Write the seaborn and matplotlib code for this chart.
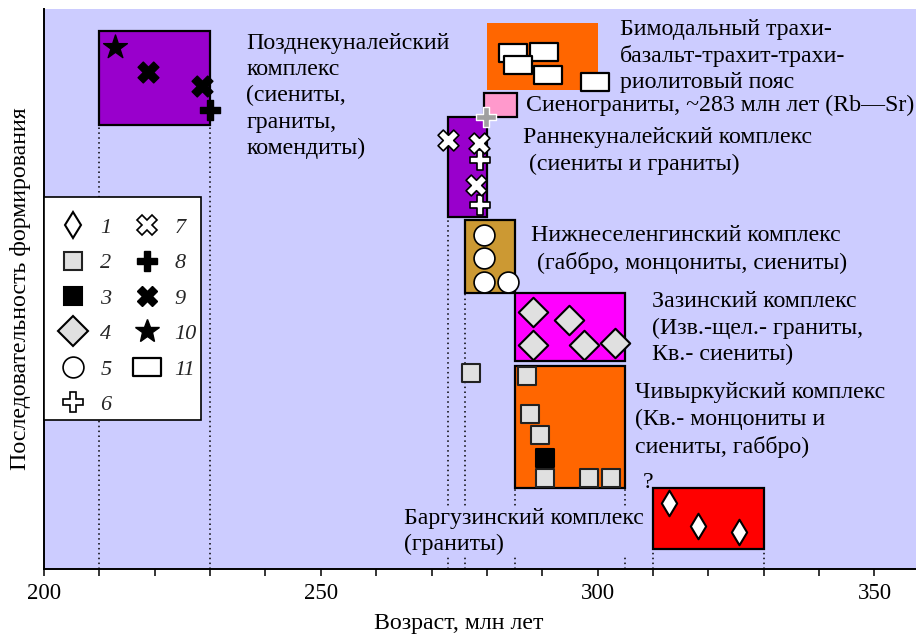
import matplotlib
matplotlib.use("Agg")
import matplotlib.pyplot as plt
import seaborn as sns
import numpy as np
from matplotlib.path import Path
from matplotlib.lines import Line2D

# ---------------- data ----------------
# complexes: age interval (Ma) and position in formation sequence (arbitrary units)
box_names = ["Позднекуналейский", "Бимодальный пояс", "Сиенограниты", "Раннекуналейский",
             "Нижнеселенгинский", "Зазинский", "Чивыркуйский", "Баргузинский"]
box_age_min = [210, 280, 279.4, 273, 276, 285, 285, 310]
box_age_max = [230, 300, 285.4, 280, 285, 305, 305, 330]
box_seq_min = [44.4, 47.9, 45.2, 35.2, 27.6, 20.8, 8.1, 2.0]
box_seq_max = [53.8, 54.6, 47.6, 45.2, 34.9, 27.6, 20.3, 8.1]

# dated samples by legend type
m1_age = [312.8, 318.2, 325.6]
m1_seq = [6.6, 4.3, 3.7]
m2_age = [277.1, 287.2, 287.7, 289.5, 290.4, 298.4, 302.5]
m2_seq = [19.6, 19.3, 15.5, 13.4, 9.1, 9.1, 9.1]
m3_age = [290.4]
m3_seq = [11.1]
m4_age = [288.4, 294.9, 288.3, 297.5, 303.2]
m4_seq = [25.7, 24.9, 22.4, 22.4, 22.6]
m5_age = [279.4, 279.4, 279.4, 283.8]
m5_seq = [33.4, 31.1, 28.7, 28.7]
m6_age = [278.7, 278.7]
m6_seq = [40.9, 36.4]
m7_age = [272.9, 278.5, 278.0]
m7_seq = [42.9, 42.6, 38.4]
m8_age = [230.0]
m8_seq = [45.9]
m8g_age = [279.8]
m8g_seq = [45.2]
m9_age = [218.8, 228.5]
m9_seq = [49.7, 48.3]
m10_age = [212.8]
m10_seq = [52.2]
m11_age = [284.8, 290.3, 285.7, 291.0, 299.5]
m11_seq = [51.6, 51.7, 50.4, 49.4, 48.7]

# dotted guide lines: age and top of line
guide_age = [210, 230, 273, 276, 285, 305, 310, 330]
guide_top = [44.4, 44.4, 35.2, 27.6, 8.1, 8.1, 2.0, 2.0]

x_ticks_major = [200, 250, 300, 350]
x_ticks_minor = [210, 220, 230, 240, 260, 270, 280, 290, 310, 320, 330, 340]
legend_labels = ["1", "2", "3", "4", "5", "6", "7", "8", "9", "10", "11"]

labels_text = [
    "Позднекуналейский\nкомплекс\n(сиениты,\nграниты,\nкомендиты)",
    "Бимодальный трахи-\nбазальт-трахит-трахи-\nриолитовый пояс",
    "Сиенограниты, ~283 млн лет (Rb—Sr)",
    "Раннекуналейский комплекс\n (сиениты и граниты)",
    "Нижнеселенгинский комплекс\n (габбро, монцониты, сиениты)",
    "Зазинский комплекс\n(Изв.-щел.- граниты,\nКв.- сиениты)",
    "Чивыркуйский комплекс\n(Кв.- монцониты и\nсиениты, габбро)",
    "Баргузинский комплекс\n(граниты)",
    "?",
]
labels_age = [236.5, 304.0, 287.0, 286.5, 287.9, 309.9, 306.7, 265.0, 308.1]
labels_seq = [47.3, 51.3, 46.4, 41.8, 31.95, 24.1, 14.9, 3.75, 8.6]

# ---------------- style ----------------
BG = "#ccccff"
box_colors = ["#9900cc", "#ff6600", "#ff99cc", "#9900cc", "#cc9933", "#ff00ff", "#ff6600", "#ff0000"]
box_edges = ["black", "none", "black", "black", "black", "black", "black", "black"]

sns.set_theme(style="ticks")
plt.rcParams["font.family"] = ["Liberation Serif", "DejaVu Serif"]

fig = plt.figure(figsize=(9.16, 6.37), dpi=100)
W, H = 916, 637
ax = fig.add_axes([44 / W, (H - 569) / H, (916 - 44) / W, (569 - 9) / H])
ax.set_facecolor(BG)
ax.set_xlim(200, 357.5)
ax.set_ylim(0, 56)

# guide lines
ax.vlines(guide_age, 0, guide_top, colors="black", linestyles=(0, (1, 2.2)), lw=1.1, zorder=1)

# boxes
widths = np.array(box_age_max) - np.array(box_age_min)
heights = np.array(box_seq_max) - np.array(box_seq_min)
ax.bar(box_age_min, heights, width=widths, bottom=box_seq_min, align="edge",
       color=box_colors, edgecolor=box_edges, linewidth=1.6, zorder=2)

rect_marker = Path([(-1.55, -1), (1.55, -1), (1.55, 1), (-1.55, 1), (-1.55, -1)],
                   [Path.MOVETO, Path.LINETO, Path.LINETO, Path.LINETO, Path.CLOSEPOLY])

specs = [
    (m1_age, m1_seq, "d", 13, "white", "black", 1.5),
    (m2_age, m2_seq, "s", 13.5, "#e0e0e0", "#222222", 1.5),
    (m3_age, m3_seq, "s", 13.5, "black", "black", 1.5),
    (m4_age, m4_seq, "D", 15, "#e0e0e0", "black", 1.5),
    (m5_age, m5_seq, "o", 15, "white", "black", 1.2),
    (m6_age, m6_seq, "P", 15, "white", "black", 1.2),
    (m7_age, m7_seq, "X", 15, "white", "black", 1.2),
    (m8_age, m8_seq, "P", 15, "black", "black", 1.0),
    (m8g_age, m8g_seq, "P", 15, "#a0a0a0", "white", 1.0),
    (m9_age, m9_seq, "X", 15, "black", "black", 1.0),
    (m10_age, m10_seq, "*", 18, "black", "black", 1.0),
    (m11_age, m11_seq, rect_marker, 20, "white", "black", 1.6),
]
for xs, ys, mk, ms, fc, ec, lw in specs:
    sns.scatterplot(x=xs, y=ys, marker=mk, s=ms ** 2, color=fc, edgecolor=ec,
                    linewidth=lw, ax=ax, zorder=3, legend=False)

# text labels
for i, (t, xa, ya) in enumerate(zip(labels_text, labels_age, labels_seq)):
    kw = dict(fontsize=17.2, ha="left", va="center", linespacing=1.33, zorder=4, color="black")
    if i == 7:
        kw["bbox"] = dict(facecolor=BG, edgecolor="none", pad=0)
    ax.text(xa, ya, t, **kw)

# legend
handles = [
    Line2D([], [], ls="none", marker="d", ms=13, mfc="white", mec="black", mew=1.5),
    Line2D([], [], ls="none", marker="s", ms=13.5, mfc="#e0e0e0", mec="#222222", mew=1.5),
    Line2D([], [], ls="none", marker="s", ms=13.5, mfc="black", mec="black", mew=1.5),
    Line2D([], [], ls="none", marker="D", ms=15, mfc="#e0e0e0", mec="black", mew=1.5),
    Line2D([], [], ls="none", marker="o", ms=15, mfc="white", mec="black", mew=1.2),
    Line2D([], [], ls="none", marker="P", ms=15, mfc="white", mec="black", mew=1.2),
    Line2D([], [], ls="none", marker="X", ms=15, mfc="white", mec="black", mew=1.2),
    Line2D([], [], ls="none", marker="P", ms=15, mfc="black", mec="black", mew=1.0),
    Line2D([], [], ls="none", marker="X", ms=15, mfc="black", mec="black", mew=1.0),
    Line2D([], [], ls="none", marker="*", ms=18, mfc="black", mec="black", mew=1.0),
    Line2D([], [], ls="none", marker=rect_marker, ms=20, mfc="white", mec="black", mew=1.6),
]
leg = ax.legend(handles, legend_labels, ncol=2, loc="upper left",
                bbox_to_anchor=(0, (569 - 197) / (569 - 9)), borderaxespad=0,
                prop={"family": "Liberation Serif", "style": "italic", "size": 16},
                title=" ", title_fontsize=1,
                frameon=True, fancybox=False, framealpha=1, edgecolor="black",
                handlelength=2.2, handletextpad=0.13, columnspacing=0.52,
                labelspacing=0.67, borderpad=0.2)
leg.get_frame().set_linewidth(1.2)
leg.set_zorder(6)

# axes styling
for s in ["top", "right"]:
    ax.spines[s].set_visible(False)
for s in ["left", "bottom"]:
    ax.spines[s].set_color("black")
    ax.spines[s].set_linewidth(1.4)
ax.set_xticks(x_ticks_major)
ax.set_xticks(x_ticks_minor, minor=True)
ax.set_yticks([])
ax.tick_params(axis="x", which="both", direction="out", length=5, width=1.1,
               color="black", labelsize=16.5, labelcolor="black", pad=5)
ax.set_xlabel("Возраст, млн лет", fontsize=17.2, color="black")
ax.xaxis.set_label_coords((458.5 - 44) / (916 - 44), -0.078)
ax.set_ylabel("Последовательность формирования", fontsize=17.2, color="black", labelpad=9.4)

fig.savefig("out.png", dpi=100, facecolor="white")
